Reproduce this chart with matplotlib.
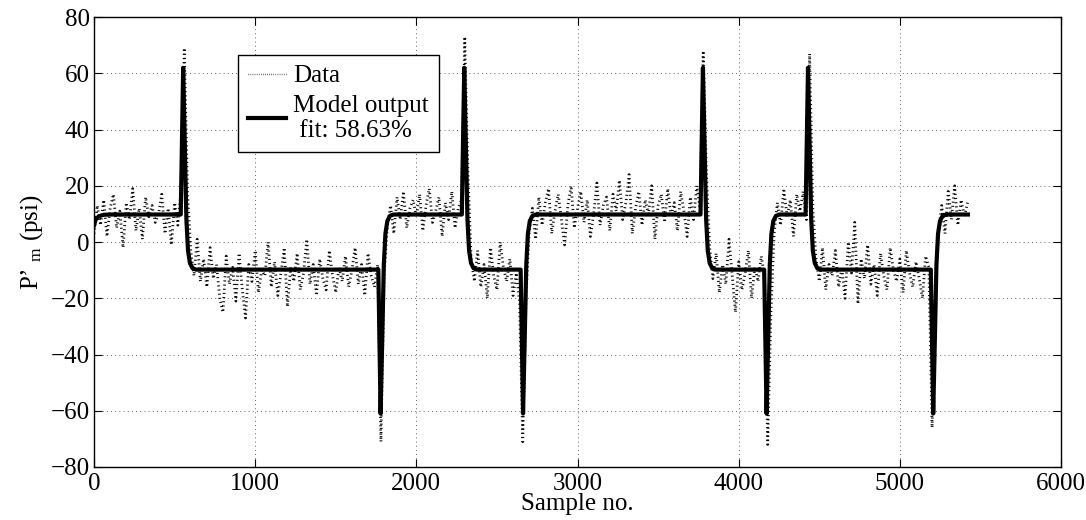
import numpy as np
import matplotlib
matplotlib.use('Agg')
import matplotlib.pyplot as plt

plt.rcParams['font.family'] = ['Liberation Serif', 'DejaVu Serif']
plt.rcParams['mathtext.fontset'] = 'custom'
plt.rcParams['mathtext.rm'] = 'Liberation Serif'
plt.rcParams['mathtext.it'] = 'Liberation Serif:italic'

data_step = 20
data_y = [
    3, 13, 6, 15, 2, 12, 17, 5, 11, -2,            # 0-180
    14, 8, 19, 4, 12, 1, 16, 9, 13, 7,             # 200-380
    10, 17, 3, 12, -1, 14, 6, 19, 69, 18,          # 400-580
    -3, -12, 1, -14, -6, -16, -2, -13, -8, -20,    # 600-780
    -25, -5, -15, -9, -21, -4, -17, -27, -8, -14,  # 800-980
    -3, -18, -10, -12, 0, -16, -7, -19, -11, -2,   # 1000-1180
    -23, -9, -14, -4, -17, -11, 1, -15, -8, -19,   # 1200-1380
    -6, -13, -17, -3, -12, -18, -9, -14, -5, -16,  # 1400-1580
    -10, -2, -15, -8, -19, -4, -12, -16, -8, -71,  # 1600-1780
    -12, 6, 13, 3, 16, 8, 18, 5, 12, 15,           # 1800-1980
    9, 17, 4, 13, 19, 7, 11, 16, 2, 14,            # 2000-2180
    8, 18, 5, 12, 15, 73, 25, -6, -14, -3,         # 2200-2380
    -16, -8, -20, -2, -12, -17, 0, -9, -14, -6,    # 2400-2580
    -19, -11, -21, -71, -20, 4, 12, 1, 16, 6,      # 2600-2780
    14, 19, 3, 11, 17, 8, -1, 13, 20, 5,           # 2800-2980
    12, 18, 7, 15, 2, 10, 21, 6, 13, 16,           # 3000-3180
    4, 17, 11, 22, 8, 14, 24, 3, 12, 18,           # 3200-3380
    6, 15, 10, 20, 1, 13, 17, 7, 19, 9,            # 3400-3580
    14, 4, 18, 11, 2, 16, 8, 20, 12, 68,           # 3600-3780
    24, -2, -13, -4, -18, -8, -15, 1, -12, -25,    # 3800-3980
    -7, -17, -11, -3, -20, -9, -14, -5, -12, -72,  # 4000-4180
    -25, 3, 14, 6, 19, 9, 15, 2, 17, 11,           # 4200-4380
    18, 8, 67, 12, -6, -14, -2, -17, -8, -12,      # 4400-4580
    -3, -16, -9, -20, 0, -11, 7, -22, -6, -13,     # 4600-4780
    -1, -15, -8, -19, -4, -12, -17, -2, -10, -14,  # 4800-4980
    -6, -18, -3, -11, -16, -7, -13, -20, -5, -9,   # 5000-5180
    -66, -18, 4, 13, 3, 18, 8, 20, 6, 15,          # 5200-5380
    9, 14,                                         # 5400-5420
]
data_x = np.arange(len(data_y)) * data_step

# model output (knots of the simulated response)
model_x = [0, 10, 30, 60, 100,
           538, 553, 563, 573, 583, 595, 611, 633, 663,
           1764, 1778, 1788, 1798, 1808, 1820, 1836, 1858, 1888,
           2282, 2297, 2307, 2317, 2327, 2339, 2355, 2377, 2407,
           2647, 2662, 2672, 2682, 2692, 2704, 2720, 2742, 2772,
           3763, 3778, 3788, 3798, 3808, 3820, 3836, 3858, 3888,
           4158, 4173, 4183, 4193, 4203, 4215, 4231, 4253, 4283,
           4415, 4430, 4440, 4450, 4460, 4472, 4488, 4510, 4540,
           5192, 5207, 5217, 5227, 5237, 5249, 5265, 5287, 5317,
           5422]
model_y = [6, 8, 9.2, 9.7, 9.8,
           9.8, 62, 35, 8, -3, -7.5, -9.3, -9.8, -9.8,
           -9.8, -61, -35, -8, 3, 7.5, 9.3, 9.8, 9.8,
           9.8, 62, 35, 8, -3, -7.5, -9.3, -9.8, -9.8,
           -9.8, -61, -35, -8, 3, 7.5, 9.3, 9.8, 9.8,
           9.8, 62, 35, 8, -3, -7.5, -9.3, -9.8, -9.8,
           -9.8, -61, -35, -8, 3, 7.5, 9.3, 9.8, 9.8,
           9.8, 62, 35, 8, -3, -7.5, -9.3, -9.8, -9.8,
           -9.8, -61, -35, -8, 3, 7.5, 9.3, 9.8, 9.8,
           9.8]

fig = plt.figure(figsize=(10.86, 5.2), dpi=100)
ax = fig.add_axes([0.0866, 0.102, 0.8904, 0.865])

# тонкая точечная линия, на вертикальных участках даёт штрихи
ax.plot(data_x, data_y, color='0.05', linestyle=(0, (0.4, 1.1)), linewidth=2.0, label='Data')
ax.plot(model_x, model_y, color='black', linewidth=3.0, label='Model output\n fit: 58.63%')

ax.set_xlim(0, 6000)
ax.set_ylim(-80, 80)
ax.set_xticks(np.arange(0, 6001, 1000))
ax.set_yticks(np.arange(-80, 81, 20))
ax.grid(True, color='0.2', linestyle=(0, (1, 4)), linewidth=0.6)
ax.tick_params(direction='in', top=True, right=True, labelsize=18, length=6, width=0.8)
ax.tick_params(axis='x', pad=4)
ax.tick_params(axis='y', pad=3)
for s in ax.spines.values():
    s.set_linewidth(1.0)

ax.set_xlabel('Sample no.', fontsize=18, labelpad=-1)
ax.set_ylabel("P’ $_{\\mathrm{m}}$ (psi)", fontsize=18, labelpad=4)

leg = ax.legend(loc='upper left', bbox_to_anchor=(0.149, 0.916), borderaxespad=0,
                fontsize=18, fancybox=False, framealpha=1, edgecolor='black',
                handlelength=1.5, handletextpad=0.3, labelspacing=0.3, borderpad=0.4)
leg.get_frame().set_linewidth(1.0)
leg.get_lines()[0].set_linewidth(1.0)

fig.savefig('out.png', dpi=100)
